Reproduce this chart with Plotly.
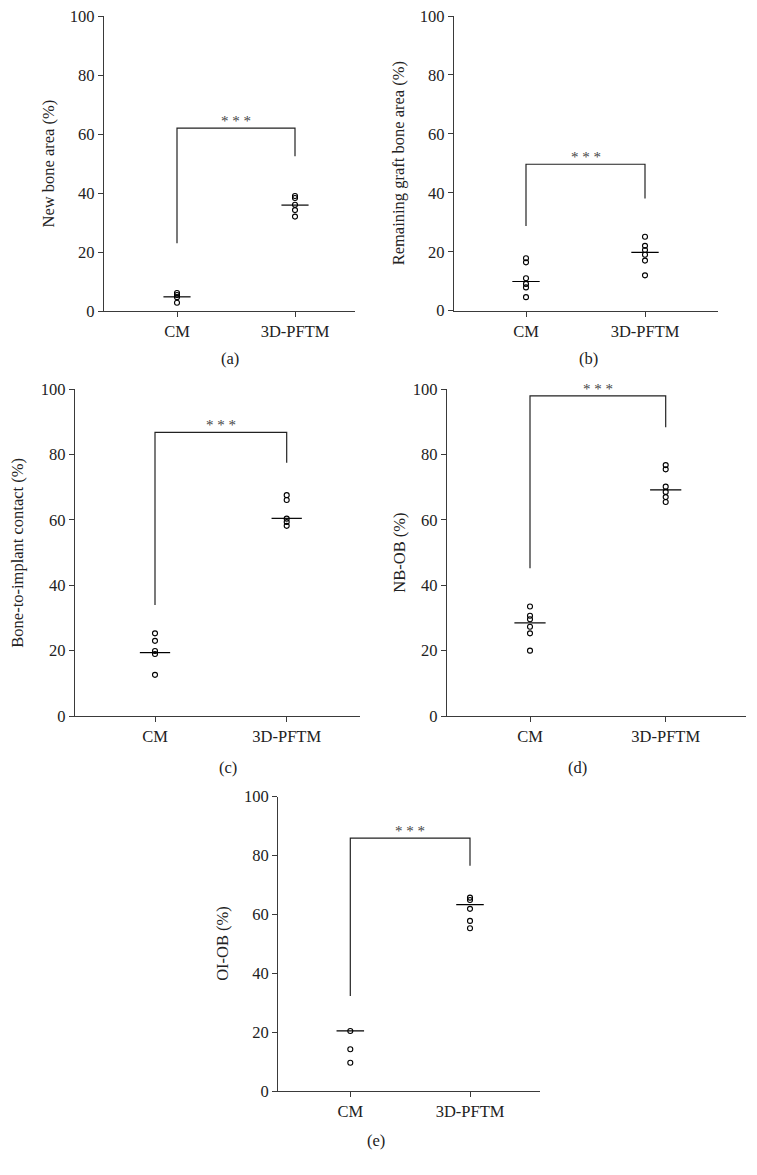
import plotly.graph_objects as go

W, H = 757, 1175
OFF = 8  # page body margin
FW, FH = W - 2 * OFF, H - 2 * OFF

categories = ["CM", "3D-PFTM"]
y_ticks = [0, 20, 40, 60, 80, 100]

# panel values
a_cm = [6.1, 5.4, 4.7, 2.8]
a_3d = [39.0, 38.3, 36.0, 34.2, 32.0]
a_med = [4.8, 35.9]
a_bracket = [23.0, 62.0, 52.5]

b_cm = [17.8, 16.4, 11.0, 9.1, 7.9, 4.6]
b_3d = [25.1, 22.0, 20.6, 19.0, 17.0, 12.0]
b_med = [9.9, 19.8]
b_bracket = [28.7, 49.7, 38.1]

c_cm = [25.3, 23.0, 19.9, 19.0, 12.6]
c_3d = [67.6, 66.1, 60.4, 59.4, 58.2]
c_med = [19.4, 60.5]
c_bracket = [34.0, 86.8, 77.5]

d_cm = [33.5, 30.7, 29.6, 27.3, 25.3, 20.0]
d_3d = [76.8, 75.5, 70.2, 68.6, 67.0, 65.5]
d_med = [28.5, 69.2]
d_bracket = [45.2, 98.0, 88.4]

e_cm = [20.4, 14.2, 9.6]
e_3d = [65.7, 64.9, 61.9, 57.8, 55.3]
e_med = [20.4, 63.3]
e_bracket = [32.3, 85.9, 76.5]

titles = ["New bone area (%)", "Remaining graft bone area (%)",
          "Bone-to-implant contact (%)", "NB-OB (%)", "OI-OB (%)"]
captions = ["(a)", "(b)", "(c)", "(d)", "(e)"]

panels = [
    dict(cm=a_cm, td=a_3d, med=a_med, br=a_bracket,
         px=(104, 355), py=(311, 16), x0=177, x1=295, tx=48, cap=(230, 358)),
    dict(cm=b_cm, td=b_3d, med=b_med, br=b_bracket,
         px=(454, 718), py=(310.7, 16), x0=526, x1=645, tx=398, cap=(588, 358)),
    dict(cm=c_cm, td=c_3d, med=c_med, br=c_bracket,
         px=(75, 360), py=(716, 389.3), x0=155, x1=286.7, tx=18, cap=(228, 768)),
    dict(cm=d_cm, td=d_3d, med=d_med, br=d_bracket,
         px=(447, 746), py=(716, 389.3), x0=530, x1=665.7, tx=400, cap=(577, 768)),
    dict(cm=e_cm, td=e_3d, med=e_med, br=e_bracket,
         px=(278.3, 540), py=(1091, 796.7), x0=350.3, x1=470, tx=223, cap=(376, 1140)),
]

FONT = "Liberation Serif"
AX = "#3a3a3a"


def fx(px):
    return (px - OFF) / FW


def fy(py):
    return 1 - (py - OFF) / FH


fig = go.Figure()
annotations = []
half = 0.115

for i, p in enumerate(panels):
    n = "" if i == 0 else str(i + 1)
    xa, ya = "x" + n, "y" + n
    scale = p["x1"] - p["x0"]
    xr = [(p["px"][0] - p["x0"]) / scale, (p["px"][1] - p["x0"]) / scale]
    # points
    fig.add_trace(go.Scatter(
        x=[0] * len(p["cm"]) + [1] * len(p["td"]), y=p["cm"] + p["td"],
        mode="markers", xaxis=xa, yaxis=ya, showlegend=False, cliponaxis=False,
        marker=dict(symbol="circle-open", size=5, color="black",
                    line=dict(width=1.1, color="black"))))
    # median lines
    for k in range(2):
        fig.add_trace(go.Scatter(
            x=[k - half, k + half], y=[p["med"][k]] * 2, mode="lines",
            xaxis=xa, yaxis=ya, showlegend=False,
            line=dict(color="black", width=1.2)))
    # bracket
    br = p["br"]
    fig.add_trace(go.Scatter(
        x=[0, 0, 1, 1], y=[br[0], br[1], br[1], br[2]], mode="lines",
        xaxis=xa, yaxis=ya, showlegend=False, cliponaxis=False,
        line=dict(color="#222", width=1.2)))
    annotations.append(dict(x=0.5, y=br[1], xref=xa, yref=ya, text="* * *",
                            showarrow=False, yanchor="bottom", yshift=-3,
                            font=dict(family=FONT, size=15, color="#444")))
    dom_x = [fx(p["px"][0]), fx(p["px"][1])]
    dom_y = [fy(p["py"][0]), fy(p["py"][1])]
    key = "" if i == 0 else str(i + 1)
    fig.update_layout(**{
        "xaxis" + key: dict(domain=dom_x, range=xr, anchor=ya, automargin=False,
                            tickvals=[0, 1], ticktext=categories,
                            ticklabeloverflow="allow",
                            showline=True, linecolor=AX, linewidth=1.3,
                            ticks="outside", ticklen=5, tickcolor=AX, tickwidth=1.2,
                            showgrid=False, zeroline=False, fixedrange=True,
                            tickfont=dict(family=FONT, size=16.5, color="#222")),
        "yaxis" + key: dict(domain=dom_y, range=[0, 100], anchor=xa, automargin=False,
                            tickvals=y_ticks, ticklabeloverflow="allow",
                            showline=True, linecolor=AX, linewidth=1.3,
                            ticks="outside", ticklen=5, tickcolor=AX, tickwidth=1.2,
                            showgrid=False, zeroline=False, fixedrange=True,
                            tickfont=dict(family=FONT, size=16.5, color="#222")),
    })
    # axis title
    annotations.append(dict(x=fx(p["tx"]), y=fy((p["py"][0] + p["py"][1]) / 2),
                            xref="paper", yref="paper", text=titles[i],
                            textangle=-90, showarrow=False,
                            xanchor="center", yanchor="middle",
                            font=dict(family=FONT, size=16.5, color="#222")))
    # caption
    annotations.append(dict(x=fx(p["cap"][0]), y=fy(p["cap"][1]),
                            xref="paper", yref="paper", text=captions[i],
                            showarrow=False, xanchor="center", yanchor="middle",
                            font=dict(family=FONT, size=16.5, color="#222")))

fig.update_layout(template="none", width=FW, height=FH,
                  margin=dict(l=0, r=0, t=0, b=0, autoexpand=False),
                  paper_bgcolor="white", plot_bgcolor="white",
                  annotations=annotations, showlegend=False)

fig.write_html("out.html")
